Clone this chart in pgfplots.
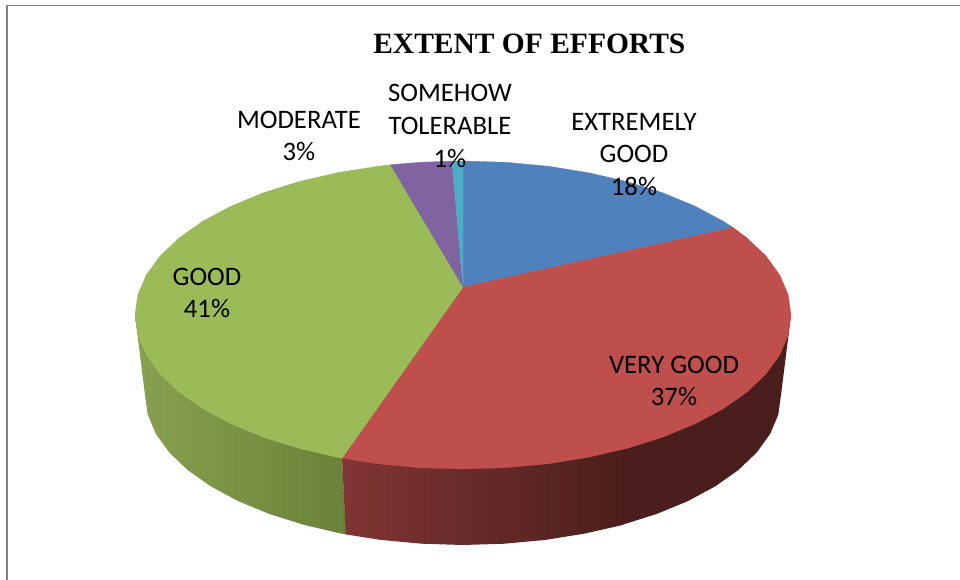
\documentclass[border=0pt]{standalone}
\usepackage{fontspec}
\setmainfont{Carlito}
\newfontfamily\titlefont{Liberation Serif}
\usepackage{pgfplots}
\pgfplotsset{compat=1.18}
\definecolor{pblue}{HTML}{4F81BD}
\definecolor{pred}{HTML}{BE4F4C}
\definecolor{pgreen}{HTML}{9BBB59}
\definecolor{ppurple}{HTML}{8064A2}
\definecolor{pteal}{HTML}{4BACC6}
\definecolor{wred1}{HTML}{803534}
\definecolor{wred2}{HTML}{4A1E1C}
\definecolor{wgreen1}{HTML}{87A14F}
\definecolor{wgreen2}{HTML}{6A8239}
\definecolor{frame}{HTML}{808080}
\tikzset{lab/.style={font=\fontsize{26.7}{32.6}\selectfont, align=center, text=black, inner sep=0pt}}
\begin{document}
\begin{tikzpicture}
\begin{axis}[
  width=960pt, height=580pt, scale only axis,
  xmin=0, xmax=960, ymin=0, ymax=580, y dir=reverse,
  hide axis, clip mode=individual,
]
\path (axis cs:0,0) rectangle (axis cs:960,580);
% frame
\addplot[frame, line width=2.4pt] coordinates {(7,5) (7,580)};
\addplot[frame, line width=1.2pt] coordinates {(6,5.5) (960,5.5)};
% side walls
\addplot[draw=none, left color=wgreen1, right color=wgreen2] coordinates {
 (135,315) (145,395) (147.7,414.6) (155.8,433.8) (169.2,452.4) (187.6,470) (210.7,486.3)
 (238.1,501.1) (269.4,514) (304,524.9) (341.3,533.6) (346,534.4) (342,458.1)};
\addplot[draw=none, left color=wred1, right color=wred2] coordinates {
 (342,458.1) (628,448.4) (623,524.9) (584.7,533.6) (545.3,539.9) (504.5,543.7) (463,545)
 (421.5,543.7) (380.7,539.9) (345.7,534.4)};
\addplot[draw=none, fill=wred2] coordinates {
 (627,448.4) (791,315) (781,395) (778.3,414.6) (770.2,433.8) (756.8,452.4) (738.4,470)
 (715.3,486.3) (687.9,501.1) (656.6,514) (622,524.9)};
% top face
\addplot[pblue, fill=pblue, line width=0.3pt] coordinates {
 (463,287) (463,161) (505.8,162.3) (547.9,166.2) (588.5,172.7) (627,181.6) (662.7,192.8)
 (694.9,206.1) (723.2,221.2) (733,227.5) (463,287)};
\addplot[pred, fill=pred, line width=0.3pt] coordinates {
 (463,287) (733,227.5) (747.1,238) (766,256.1) (779.8,275.1) (788.2,294.9) (791,315)
 (788.2,335.1) (779.8,354.9) (766,373.9) (747.1,392) (723.2,408.8) (694.9,423.9) (662.7,437.2)
 (627,448.4) (588.5,457.3) (547.9,463.8) (505.8,467.7) (463,469) (420.2,467.7) (378.1,463.8)
 (342,458.1) (463,287)};
\addplot[pgreen, fill=pgreen, line width=0.3pt] coordinates {
 (463,287) (342,458.1) (337.5,457.3) (299,448.4) (263.3,437.2) (231.1,423.9) (202.8,408.8)
 (178.9,392) (160,373.9) (146.2,354.9) (137.8,335.1) (135,315) (137.8,294.9) (146.2,275.1)
 (160,256.1) (178.9,238) (202.8,221.2) (231.1,206.1) (263.3,192.8) (299,181.6) (337.5,172.7)
 (378.1,166.2) (390.5,164.8) (463,287)};
\addplot[ppurple, fill=ppurple, line width=0.3pt] coordinates {
 (463,287) (390.5,164.8) (420.2,162.3) (452,161.1) (463,287)};
\addplot[pteal, fill=pteal, line width=0.3pt] coordinates {
 (463,287) (452,161.1) (463,161) (463,287)};
% text
\node[font=\titlefont\bfseries\fontsize{29.5}{34}\selectfont, text=black, inner sep=0pt] at (axis cs:529.3,44) {EXTENT OF EFFORTS};
\node[lab] at (axis cs:299,136) {MODERATE\\3\%};
\node[lab] at (axis cs:450,126) {SOMEHOW\\TOLERABLE\\1\%};
\node[lab] at (axis cs:634,154.5) {EXTREMELY\\GOOD\\18\%};
\node[lab] at (axis cs:674,380.8) {VERY GOOD\\37\%};
\node[lab] at (axis cs:207,292.8) {GOOD\\41\%};
\end{axis}
\end{tikzpicture}
\end{document}
